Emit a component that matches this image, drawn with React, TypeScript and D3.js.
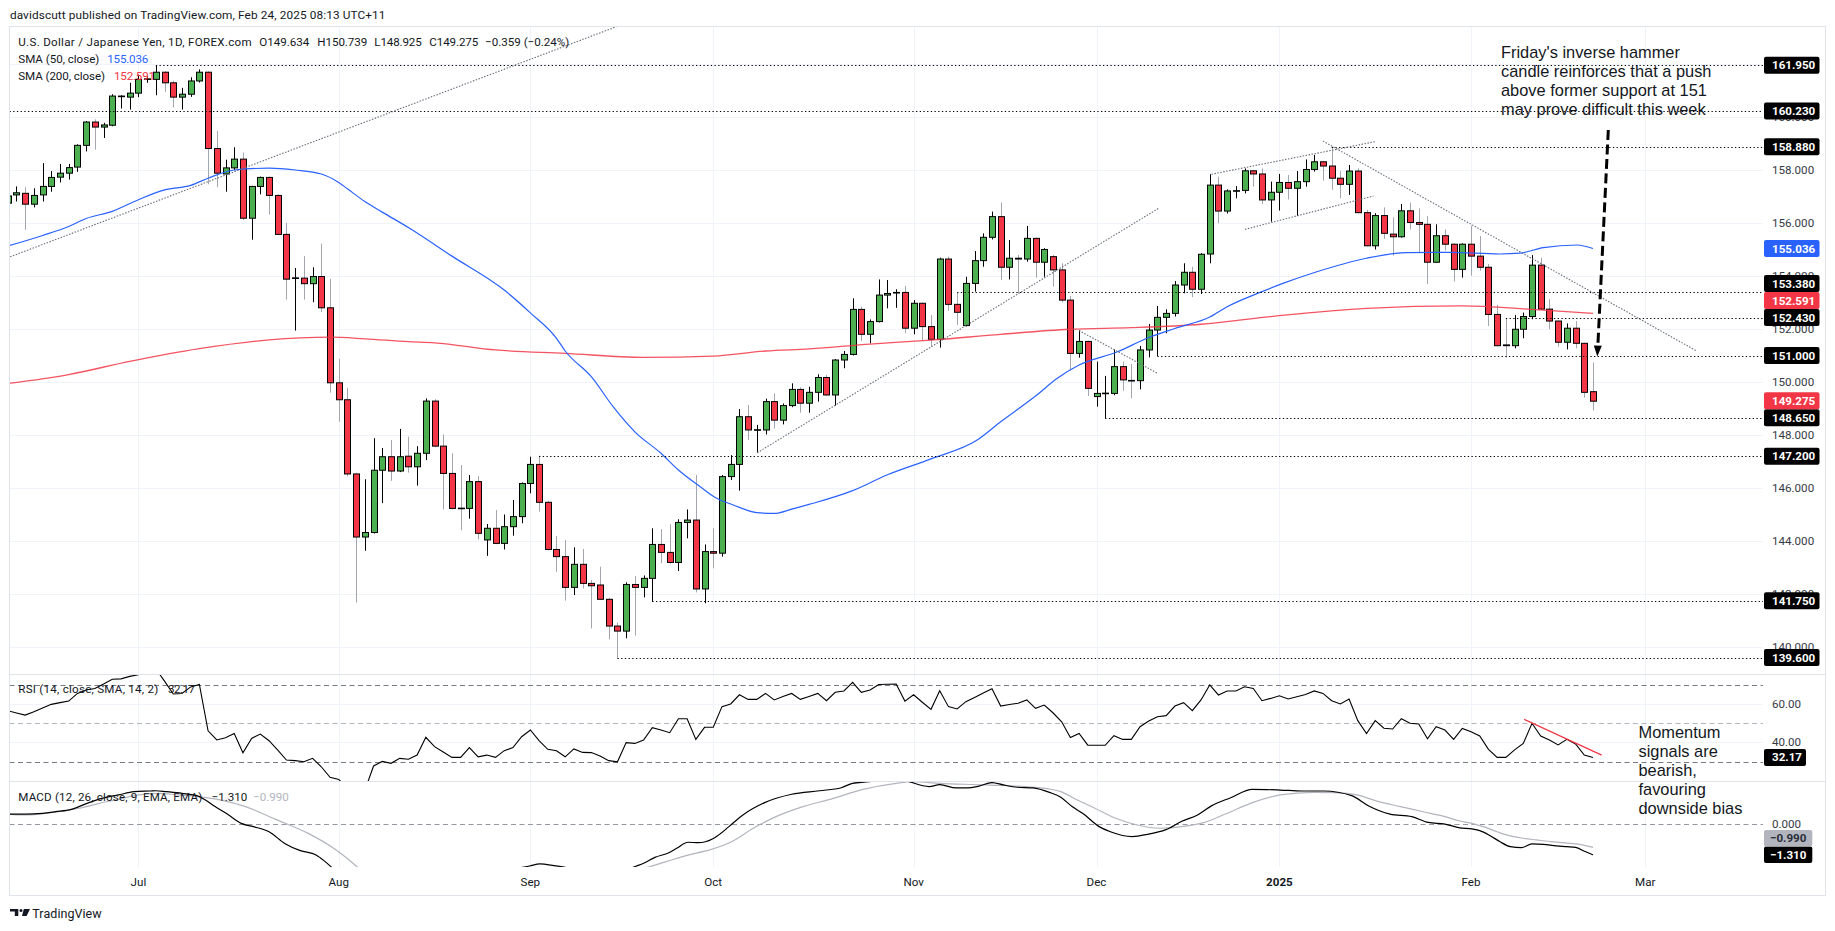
import React from 'react';
import * as d3 from 'd3';

// ---------- DATA ----------
type Candle = [string, number, number, number, number]; // date, open, high, low, close
const candles: Candle[] = [
  ['2024-06-10',156.75,157.20,156.60,157.02],['2024-06-11',157.06,157.38,156.81,157.14],['2024-06-12',157.12,157.35,155.74,156.71],
  ['2024-06-13',156.71,157.31,156.59,157.04],['2024-06-14',157.06,158.26,156.81,157.38],['2024-06-17',157.38,157.96,157.18,157.72],
  ['2024-06-18',157.73,158.23,157.53,157.88],['2024-06-19',157.88,158.23,157.64,158.09],['2024-06-20',158.11,158.97,157.93,158.93],
  ['2024-06-21',158.93,159.85,158.70,159.81],['2024-06-24',159.81,159.91,158.77,159.62],['2024-06-25',159.62,159.78,159.21,159.70],
  ['2024-06-26',159.69,160.86,159.65,160.79],['2024-06-27',160.78,160.82,160.32,160.79],['2024-06-28',160.75,161.29,160.28,160.90],
  ['2024-07-01',160.90,161.60,160.75,161.42],['2024-07-02',161.42,161.53,161.29,161.44],['2024-07-03',161.42,161.95,160.82,161.69],
  ['2024-07-04',161.69,161.73,160.95,161.29],['2024-07-05',161.29,161.37,160.36,160.75],['2024-07-08',160.75,161.10,160.28,160.86],
  ['2024-07-09',160.86,161.50,160.76,161.36],['2024-07-10',161.36,161.80,161.30,161.69],['2024-07-11',161.69,161.72,157.46,158.81],
  ['2024-07-12',158.81,159.47,157.35,157.88],['2024-07-15',157.85,158.39,157.18,158.08],['2024-07-16',158.08,158.86,158.00,158.41],
  ['2024-07-17',158.41,158.66,156.11,156.18],['2024-07-18',156.18,157.40,155.37,157.38],['2024-07-19',157.38,157.75,157.08,157.72],
  ['2024-07-22',157.72,157.75,156.32,157.04],['2024-07-23',157.04,157.08,155.55,155.57],['2024-07-24',155.57,156.01,153.11,153.88],
  ['2024-07-25',153.92,154.30,151.94,153.93],['2024-07-26',153.92,154.75,153.11,153.71],['2024-07-29',153.71,154.33,153.01,153.98],
  ['2024-07-30',153.98,155.22,152.64,152.80],['2024-07-31',152.80,153.89,149.60,149.97],['2024-08-01',149.97,150.88,148.50,149.33],
  ['2024-08-02',149.33,149.78,146.44,146.53],['2024-08-05',146.53,146.57,141.68,144.15],['2024-08-06',144.15,146.33,143.63,144.32],
  ['2024-08-07',144.32,147.88,144.28,146.67],['2024-08-08',146.67,147.51,145.43,147.18],['2024-08-09',147.18,147.81,146.27,146.64],
  ['2024-08-12',146.64,148.23,146.60,147.18],['2024-08-13',147.20,147.94,146.58,146.80],['2024-08-14',146.80,147.58,146.09,147.31],
  ['2024-08-15',147.31,149.38,147.05,149.28],['2024-08-16',149.28,149.35,147.55,147.58],['2024-08-19',147.58,148.02,145.19,146.55],
  ['2024-08-20',146.55,147.31,145.19,145.23],['2024-08-21',145.24,146.87,144.41,145.22],['2024-08-22',145.23,146.49,144.84,146.24],
  ['2024-08-23',146.24,146.45,144.06,144.29],['2024-08-26',144.04,144.64,143.44,144.48],['2024-08-27',144.48,145.17,143.88,143.91],
  ['2024-08-28',143.91,145.00,143.68,144.54],['2024-08-29',144.54,145.55,144.20,144.92],['2024-08-30',144.92,146.21,144.67,146.17],
  ['2024-09-02',146.17,147.18,145.80,146.89],['2024-09-03',146.89,147.22,145.11,145.46],['2024-09-04',145.46,145.52,143.65,143.68],
  ['2024-09-05',143.68,144.19,142.84,143.41],['2024-09-06',143.41,144.04,141.75,142.25],['2024-09-09',142.25,143.76,141.96,143.12],
  ['2024-09-10',143.12,143.70,142.21,142.40],['2024-09-11',142.40,142.53,140.70,142.31],['2024-09-12',142.34,143.03,141.78,141.80],
  ['2024-09-13',141.80,141.84,140.29,140.79],['2024-09-16',140.79,140.92,139.57,140.60],['2024-09-17',140.60,142.44,140.33,142.36],
  ['2024-09-18',142.36,142.68,140.43,142.25],['2024-09-19',142.25,142.70,141.87,142.59],['2024-09-20',142.59,144.48,141.71,143.87],
  ['2024-09-23',143.87,144.45,143.16,143.57],['2024-09-24',143.57,144.63,143.15,143.19],['2024-09-25',143.19,144.82,142.87,144.70],
  ['2024-09-26',144.70,145.19,144.10,144.79],['2024-09-27',144.79,146.49,142.06,142.19],['2024-09-30',142.19,143.87,141.65,143.60],
  ['2024-10-01',143.60,144.48,142.97,143.54],['2024-10-02',143.54,146.49,143.41,146.43],['2024-10-03',146.43,147.24,146.30,146.89],
  ['2024-10-04',146.89,148.98,145.90,148.69],['2024-10-07',148.69,149.13,147.81,148.19],['2024-10-08',148.19,148.38,147.33,148.20],
  ['2024-10-09',148.19,149.37,148.02,149.26],['2024-10-10',149.26,149.57,148.25,148.56],['2024-10-11',148.56,149.19,148.40,149.11],
  ['2024-10-14',149.11,149.95,149.05,149.72],['2024-10-15',149.72,149.80,148.84,149.20],['2024-10-16',149.20,149.82,148.84,149.61],
  ['2024-10-17',149.61,150.29,149.26,150.17],['2024-10-18',150.17,150.26,149.48,149.51],['2024-10-21',149.51,150.86,149.11,150.83],
  ['2024-10-22',150.83,151.17,150.52,151.04],['2024-10-23',151.04,153.16,151.00,152.74],['2024-10-24',152.74,152.84,151.55,151.80],
  ['2024-10-25',151.80,152.36,151.46,152.28],['2024-10-28',152.28,153.87,152.25,153.28],['2024-10-29',153.28,153.85,152.78,153.34],
  ['2024-10-30',153.37,153.50,152.80,153.38],['2024-10-31',153.38,153.62,151.84,152.03],['2024-11-01',152.03,153.09,151.80,152.97],
  ['2024-11-04',152.97,153.00,151.55,152.09],['2024-11-05',152.09,152.53,151.33,151.61],['2024-11-06',151.61,154.69,151.30,154.64],
  ['2024-11-07',154.64,154.73,152.69,152.93],['2024-11-08',152.93,153.37,152.15,152.63],['2024-11-11',152.13,153.97,152.10,153.72],
  ['2024-11-12',153.72,154.94,153.41,154.58],['2024-11-13',154.58,155.61,154.35,155.46],['2024-11-14',155.46,156.43,155.38,156.24],
  ['2024-11-15',156.24,156.77,153.85,154.33],['2024-11-18',154.33,155.36,153.87,154.67],['2024-11-19',154.67,154.79,153.35,154.64],
  ['2024-11-20',154.64,155.89,154.54,155.42],['2024-11-21',155.42,155.45,153.94,154.52],['2024-11-22',154.52,155.05,153.97,155.00],
  ['2024-11-25',154.73,154.79,153.60,154.23],['2024-11-26',154.23,154.48,153.00,153.09],['2024-11-27',153.09,153.25,150.45,151.08],
  ['2024-11-28',151.08,151.96,150.92,151.53],['2024-11-29',151.53,151.56,149.47,149.76],['2024-12-02',149.45,150.77,149.07,149.57],
  ['2024-12-03',149.57,150.23,148.63,149.58],['2024-12-04',149.57,151.23,149.50,150.58],['2024-12-05',150.58,150.77,149.67,150.08],
  ['2024-12-06',150.06,150.68,149.38,150.04],['2024-12-09',150.05,151.36,149.72,151.21],['2024-12-10',151.21,152.19,150.93,151.96],
  ['2024-12-11',151.96,152.87,150.98,152.44],['2024-12-12',152.44,152.74,151.84,152.59],['2024-12-13',152.59,153.81,152.47,153.66],
  ['2024-12-16',153.66,154.48,153.35,154.14],['2024-12-17',154.14,154.35,153.20,153.50],['2024-12-18',153.50,154.86,153.32,154.82],
  ['2024-12-19',154.83,157.84,154.48,157.43],['2024-12-20',157.43,157.75,155.99,156.45],['2024-12-23',156.45,157.27,156.36,157.21],
  ['2024-12-24',157.21,157.39,156.93,157.22],['2024-12-26',157.23,158.06,157.12,157.97],['2024-12-27',157.97,158.00,157.37,157.85],
  ['2024-12-30',157.85,158.06,156.72,156.87],['2024-12-31',156.87,157.56,156.05,157.16],['2025-01-02',157.16,157.85,156.47,157.53],
  ['2025-01-03',157.53,157.81,156.89,157.31],['2025-01-06',157.31,157.96,156.26,157.56],['2025-01-07',157.56,158.40,157.37,158.02],
  ['2025-01-08',158.02,158.57,157.94,158.31],['2025-01-09',158.31,158.33,157.60,158.15],['2025-01-10',158.15,158.88,157.25,157.69],
  ['2025-01-13',157.69,157.96,156.93,157.46],['2025-01-14',157.46,158.19,157.06,157.96],['2025-01-15',157.96,158.06,156.37,156.39],
  ['2025-01-16',156.39,156.49,155.12,155.14],['2025-01-17',155.14,156.37,155.00,156.28],['2025-01-20',156.28,156.59,155.40,155.61],
  ['2025-01-21',155.58,156.21,154.77,155.48],['2025-01-22',155.48,156.72,155.45,156.46],['2025-01-23',156.46,156.77,155.76,156.02],
  ['2025-01-24',156.02,156.55,154.88,155.95],['2025-01-27',155.95,156.26,153.70,154.52],['2025-01-28',154.52,155.95,154.50,155.52],
  ['2025-01-29',155.52,155.76,154.96,155.20],['2025-01-30',155.20,155.23,153.79,154.25],['2025-01-31',154.25,155.23,153.94,155.20],
  ['2025-02-03',155.20,155.90,154.01,154.75],['2025-02-04',154.75,155.51,154.20,154.33],['2025-02-05',154.33,154.45,152.11,152.55],
  ['2025-02-06',152.55,152.91,151.35,151.37],['2025-02-07',151.40,152.40,150.92,151.37],['2025-02-10',151.37,152.53,151.27,151.99],
  ['2025-02-11',151.99,152.62,151.65,152.47],['2025-02-12',152.47,154.79,152.37,154.41],['2025-02-13',154.41,154.69,152.72,152.75],
  ['2025-02-14',152.75,153.12,151.99,152.30],['2025-02-17',152.30,152.32,151.33,151.50],['2025-02-18',151.50,152.21,151.23,152.03],
  ['2025-02-19',152.03,152.30,151.27,151.46],['2025-02-20',151.46,151.48,149.41,149.61],['2025-02-21',149.634,150.739,148.925,149.275],
];

// SMA samples: [bar position, value]
const sma50: [number, number][] = [
  [0,155.13],[4,155.53],[7,155.87],[9,156.17],[12,156.44],[15,156.88],[18,157.25],[21,157.42],[23,157.69],[26,158.0],
  [30,158.07],[33,158.0],[36,157.85],[38,157.53],[39,157.29],[41,156.81],[43,156.41],[46,155.83],[51,154.75],[57,153.47],
  [60,152.61],[63,151.65],[64,151.17],[67,150.2],[69.5,149.07],[72,148.12],[75,147.31],[77,146.68],[79.5,146.05],[81.4,145.61],
  [83.3,145.36],[86,145.07],[88,145.04],[90,145.2],[92,145.38],[97,145.9],[101,146.5],[106,147.1],[111.3,147.81],[114,148.5],
  [118,149.47],[120.5,150.14],[123,150.64],[127.4,151.14],[131,151.68],[134,152.02],[138,152.45],[140,152.84],[144,153.41],
  [146.4,153.72],[150.3,154.16],[156,154.67],[160.6,154.88],[165.6,154.89],[171.3,154.83],[173.6,154.86],[176.3,155.07],
  [180.2,155.17],[182,155.036],
];
const sma200: [number, number][] = [
  [0,149.94],[7,150.28],[14,150.78],[22,151.26],[30,151.59],[37,151.69],[41,151.63],[46,151.52],[49,151.48],[56,151.21],
  [64,151.08],[73,150.93],[81,150.98],[87,151.17],[92,151.25],[99,151.43],[106,151.58],[114,151.80],[122,151.99],[129,152.05],
  [137,152.18],[145,152.47],[156,152.78],[167,152.87],[175,152.74],[182,152.591],
];

// RSI per bar
const rsi: number[] = [
  56.6,55.4,54.3,56.0,58.0,59.9,60.8,61.6,65.6,67.4,68.2,70.5,73.0,73.2,74.5,75.4,77.5,78.5,72.0,65.3,
  65.6,69.0,70.3,46.1,41.3,42.5,44.7,34.6,42.1,44.4,40.9,36.0,30.8,30.5,29.9,31.7,27.3,21.8,20.7,16.0,
  11.0,15.0,27.7,30.1,29.1,31.7,31.2,33.4,42.7,37.8,35.0,32.2,32.2,37.3,32.5,33.4,32.2,35.7,37.3,43.0,
  46.5,41.0,36.4,35.7,32.5,36.6,34.8,34.7,32.9,30.5,29.9,39.9,39.5,41.3,47.7,46.5,45.1,52.4,52.4,41.6,
  47.9,47.9,58.7,60.1,64.9,62.5,62.5,65.6,62.2,64.0,65.6,62.5,64.0,65.6,61.8,66.2,66.9,71.4,66.2,67.4,
  70.3,70.4,70.5,61.6,64.9,61.0,57.3,67.0,58.7,57.5,61.3,63.5,65.8,68.1,59.0,59.8,60.5,62.2,57.8,59.5,
  55.5,50.8,42.6,44.7,38.6,38.5,38.5,43.5,41.6,41.6,48.2,51.2,53.4,54.0,59.0,60.8,56.6,62.2,70.0,64.8,
  66.9,66.9,69.1,68.2,61.8,63.0,64.4,62.7,63.9,65.0,66.9,65.6,61.8,60.1,62.7,51.4,44.7,51.4,47.4,47.0,
  52.4,50.0,49.6,41.9,48.2,46.5,41.6,47.3,45.6,43.4,36.4,32.2,32.2,36.1,39.5,50.0,43.4,41.3,38.7,41.6,
  39.2,33.4,32.17,
];

// MACD line and signal samples: [bar position, value]
const macdLine: [number, number][] = [
  [0,0.44],[2,0.44],[4,0.47],[5.5,0.54],[7.3,0.64],[9.1,0.90],[10.9,1.12],[12.7,1.26],[14.5,1.40],[16.4,1.43],[17,1.44],
  [18.2,1.40],[20,1.33],[21.8,1.22],[22.7,1.04],[23.8,0.76],[25.2,0.44],[26.8,0.04],[28.2,-0.10],[30,-0.32],[31.8,-0.82],
  [33.6,-1.13],[35.4,-1.32],[36.3,-1.56],[37.2,-1.85],[38.5,-2.3],[40,-2.9],[42,-3.2],[45,-3.1],[48,-2.6],[52,-2.3],
  [56,-2.05],[58,-1.92],[59.9,-1.79],[61.1,-1.70],[62.7,-1.77],[64,-1.85],[66,-2.1],[68,-2.3],[70,-2.2],[71.8,-1.85],
  [73,-1.67],[74.3,-1.42],[75.9,-1.22],[76.8,-1.03],[78.1,-0.77],[79.3,-0.79],[80.9,-0.63],[81.5,-0.49],[82.8,-0.10],
  [84.4,0.40],[86.9,0.93],[90,1.29],[93.2,1.44],[95.7,1.57],[97,1.76],[98.9,1.83],[100.5,1.95],[102,1.98],[103.3,1.85],
  [105.8,1.62],[107,1.70],[108.9,1.56],[110.2,1.56],[111.5,1.64],[113,1.79],[114.3,1.69],[115.9,1.59],[117.7,1.56],
  [119.6,1.37],[120.9,1.16],[122.2,0.76],[123.4,0.47],[125.3,-0.10],[126.6,-0.32],[129.1,-0.53],[131,-0.42],[132.9,-0.24],
  [134.8,0.13],[136.6,0.40],[138.2,0.79],[140.4,1.14],[142.9,1.50],[146.1,1.47],[148.6,1.43],[151.1,1.43],[154.3,1.23],
  [156.2,0.80],[158.7,0.44],[161.2,0.33],[163.1,0.08],[165,0.01],[166.7,-0.15],[168.1,-0.20],[169,-0.27],[170.2,-0.49],
  [171.3,-0.74],[172.5,-0.96],[173.8,-1.0],[175,-0.84],[176.3,-0.86],[177.8,-0.93],[179,-0.96],[180,-0.99],[181.1,-1.17],
  [182,-1.31],
];
const signalLine: [number, number][] = [
  [0.2,0.44],[1.8,0.40],[3.65,0.44],[5.9,0.54],[8.2,0.69],[10.5,0.90],[12.7,1.07],[15,1.26],[17.3,1.33],[19.5,1.26],
  [21.8,1.19],[24.5,1.04],[27.3,0.76],[30.9,0.19],[34.5,-0.39],[37.7,-1.10],[39.1,-1.50],[40.2,-1.85],[43,-2.4],[47,-2.75],
  [52,-2.7],[58,-2.4],[64,-2.15],[68,-2.05],[71,-1.95],[73.4,-1.85],[75.6,-1.60],[78.1,-1.32],[80.6,-1.10],[83.1,-0.75],
  [85.6,-0.17],[88.2,0.33],[91.3,0.76],[94.4,1.07],[98.2,1.50],[102,1.76],[103.9,1.83],[107,1.76],[112.1,1.69],[118.4,1.57],
  [120.9,1.40],[122.8,1.04],[124.7,0.71],[127.2,0.26],[129.7,-0.03],[132.2,-0.17],[134.8,-0.10],[137.3,0.07],[139.8,0.44],
  [142.9,0.93],[146.1,1.26],[149.9,1.37],[152.4,1.36],[154.9,1.26],[157.4,0.97],[159.9,0.76],[162.5,0.54],[165,0.33],
  [166.7,0.14],[168.1,0.04],[169.4,-0.10],[171,-0.32],[172.5,-0.50],[174,-0.60],[175.5,-0.67],[177.1,-0.74],[178.6,-0.79],
  [180.1,-0.84],[182,-0.99],
];

const priceTicks = [140, 142, 144, 146, 148, 150, 152, 154, 156, 158, 160, 162];
const rsiTicks = [60, 40];
const monthTicks: [string, string][] = [
  ['Jul','2024-07-01'],['Aug','2024-08-01'],['Sep','2024-09-02'],['Oct','2024-10-01'],['Nov','2024-11-01'],
  ['Dec','2024-12-02'],['2025','2025-01-02'],['Feb','2025-02-03'],['Mar','2025-03-03'],
];
// horizontal levels: price, start date (null = from the left edge)
const levels: [number, string | null][] = [
  [161.95,'2024-07-03'],[160.23,null],[158.88,'2025-01-10'],[153.38,'2024-11-08'],[152.43,'2025-02-07'],
  [151.0,'2024-12-11'],[148.65,'2024-12-03'],[147.2,'2024-09-03'],[141.75,'2024-09-20'],[139.6,'2024-09-16'],
];
// trend lines in [bar position, price]
const trendLines: { a: [number, number]; b: [number, number]; extend?: boolean }[] = [
  { a: [0, 154.69], b: [46, 160.43], extend: true },
  { a: [86.05, 147.33], b: [132.1, 156.55] },
  { a: [123, 151.94], b: [132, 150.33] },
  { a: [138.2, 157.84], b: [157, 159.07] },
  { a: [142.05, 155.76], b: [156.8, 157.02] },
  { a: [151, 159.09], b: [193.9, 151.17] },
];
const rsiTrend: [number, number][] = [[174.1, 52.07], [183, 33.4]];
const arrowPts: [number, number][] = [[183.76, 159.51], [182.5, 150.96]];

const lastClose = 149.275, lastSma50 = 155.036, lastSma200 = 152.591, lastRsi = 32.17, lastMacd = -1.31, lastSignal = -0.99;

const noteTop = ["Friday's inverse hammer", 'candle reinforces that a push', 'above former support at 151', 'may prove difficult this week'];
const noteBottom = ['Momentum', 'signals are', 'bearish,', 'favouring', 'downside bias'];

// ---------- LAYOUT ----------
const W = 1835, H = 931;
const PL = 9.5, PR = 1763, PT = 27, PB = 674, RT = 675, RB = 781, MT = 782, MB = 867;
const FONT = 'Roboto, "Noto Sans", sans-serif';
const TXT = '#131722';

const dates = candles.map(c => c[0]);
function barOf(date: string): number {
  const i = dates.indexOf(date);
  if (i >= 0) return i;
  let d = new Date(dates[dates.length - 1] + 'T00:00:00Z');
  const t = new Date(date + 'T00:00:00Z');
  let n = dates.length - 1;
  while (d < t) {
    d = new Date(d.getTime() + 86400000);
    const wd = d.getUTCDay();
    if (wd !== 0 && wd !== 6) n++;
  }
  return n;
}
const fmtMinus = (v: number, digits: number) => (v < 0 ? '\u2212' : '') + Math.abs(v).toFixed(digits);

function T(props: { x: number; y: number; w?: number; children: React.ReactNode; [k: string]: any }) {
  const { x, y, w, children, ...rest } = props;
  return (
    <text x={x} y={y} dominantBaseline="central" {...(w ? { textLength: w, lengthAdjust: 'spacing' } : {})} {...rest}>
      {children}
    </text>
  );
}

export default function App() {
  const xs = d3.scaleLinear().domain([0, 182]).range([7.75, 7.75 + 182 * 8.71]);
  const y = d3.scaleLinear().domain([140, 158]).range([647, 170]);
  const yR = d3.scaleLinear().domain([30, 70]).range([761.6, 685]);
  const yM = d3.scaleLinear().domain([-1, 1]).range([847.6, 801.0]);

  const smaLine = d3.line<[number, number]>().x(d => xs(d[0])).y(d => y(d[1])).curve(d3.curveMonotoneX);
  const rsiPath = d3.line<number>().x((d, i) => xs(i)).y(d => yR(d))(rsi) || '';
  const mLine = d3.line<[number, number]>().x(d => xs(d[0])).y(d => yM(d[1])).curve(d3.curveMonotoneX);

  // price-axis boxes with collision handling (push upward)
  type Box = { v: number; fill: string; color: string; yy: number };
  const mainBoxes: Box[] = [
    ...levels.map(([p]) => ({ v: p, fill: '#000000', color: '#ffffff', yy: y(p) })),
    { v: lastSma50, fill: '#2962ff', color: '#ffffff', yy: y(lastSma50) },
    { v: lastSma200, fill: '#f23645', color: '#ffffff', yy: y(lastSma200) },
    { v: lastClose, fill: '#f23645', color: '#ffffff', yy: y(lastClose) },
  ].sort((a, b) => b.yy - a.yy);
  for (let i = 1; i < mainBoxes.length; i++) {
    mainBoxes[i].yy = Math.min(mainBoxes[i].yy, mainBoxes[i - 1].yy - 17);
  }
  const macdBoxes: Box[] = [
    { v: lastSignal, fill: '#b2b5be', color: '#2a2e39', yy: yM(lastSignal) },
    { v: lastMacd, fill: '#000000', color: '#ffffff', yy: yM(lastMacd) },
  ].sort((a, b) => b.yy - a.yy);
  for (let i = 1; i < macdBoxes.length; i++) {
    macdBoxes[i].yy = Math.min(macdBoxes[i].yy, macdBoxes[i - 1].yy - 16.5);
  }

  const trendSegs = trendLines.map(t => {
    let x1 = xs(t.a[0]), y1 = y(t.a[1]), x2 = xs(t.b[0]), y2 = y(t.b[1]);
    if (t.extend) {
      const s = (y2 - y1) / (x2 - x1);
      const nx1 = PL - 5, nx2 = PR + 5;
      y1 = y1 + s * (nx1 - x1); y2 = y2 + s * (nx2 - x2);
      x1 = nx1; x2 = nx2;
    }
    return [x1, y1, x2, y2];
  });

  // arrow
  const ax0 = xs(arrowPts[0][0]), ay0 = y(arrowPts[0][1]);
  const ax1 = xs(arrowPts[1][0]), ay1 = y(arrowPts[1][1]);
  const alen = Math.hypot(ax1 - ax0, ay1 - ay0);
  const ux = (ax1 - ax0) / alen, uy = (ay1 - ay0) / alen;
  const headL = 11, headW = 4;
  const bx = ax1 - ux * headL, by = ay1 - uy * headL;
  const head = `M${ax1},${ay1} L${bx - uy * headW},${by + ux * headW} L${bx + uy * headW},${by - ux * headW} Z`;

  const axisX = 1772;

  return (
    <svg width={W} height={H} style={{ position: 'absolute', left: 0, top: 0, background: '#ffffff' }}
      fontFamily={FONT}>
      <defs>
        <clipPath id="clipMain"><rect x={PL} y={PT} width={PR - PL} height={PB - PT} /></clipPath>
        <clipPath id="clipRsi"><rect x={PL} y={RT} width={PR - PL} height={RB - RT} /></clipPath>
        <clipPath id="clipMacd"><rect x={PL} y={MT} width={PR - PL} height={MB - MT} /></clipPath>
      </defs>
      <rect x={0} y={0} width={W} height={H} fill="#ffffff" />

      {/* header */}
      <T x={9.9} y={15} w={375.6} fontSize={11.8} fill={TXT}>
        davidscutt published on TradingView.com, Feb 24, 2025 08:13 UTC+11
      </T>

      {/* grid */}
      <g clipPath="url(#clipMain)">
        {priceTicks.map(p => (
          <line key={'g' + p} x1={PL} x2={PR} y1={Math.round(y(p)) + 0.5} y2={Math.round(y(p)) + 0.5} stroke="#f0f3fa" />
        ))}
      </g>
      {monthTicks.map(([l, d]) => {
        const xx = Math.round(xs(barOf(d))) + 0.5;
        return <line key={'v' + l} x1={xx} x2={xx} y1={PT} y2={MB} stroke="#f0f3fa" />;
      })}
      {rsiTicks.map(v => (
        <line key={'rg' + v} x1={PL} x2={PR} y1={Math.round(yR(v)) + 0.5} y2={Math.round(yR(v)) + 0.5} stroke="#f0f3fa" />
      ))}

      {/* candles */}
      <g clipPath="url(#clipMain)">
        {candles.map(([d, o, h, l, c], i) => {
          const cx = Math.round(xs(i));
          const up = c >= o;
          const top = y(Math.max(o, c)), bot = y(Math.min(o, c));
          return (
            <g key={d}>
              <line x1={cx + 0.5} x2={cx + 0.5} y1={y(h)} y2={y(l)} stroke={up ? '#000000' : '#a3a6af'} strokeWidth={1} />
              <rect x={cx - 2.5} y={top} width={6} height={Math.max(bot - top, 0.6)}
                fill={up ? '#4caf50' : '#f23645'} stroke="#000000" strokeWidth={1} />
            </g>
          );
        })}
        {/* SMAs */}
        <path d={smaLine(sma200) || ''} fill="none" stroke="#f23645" strokeWidth={1.3} strokeOpacity={0.85} />
        <path d={smaLine(sma50) || ''} fill="none" stroke="#2962ff" strokeWidth={1.2} />
        {/* horizontal levels */}
        {levels.map(([p, from]) => {
          const yy = Math.round(y(p)) + 0.5;
          const x1 = from ? xs(barOf(from)) : PL;
          return <line key={'lv' + p} x1={x1} x2={PR} y1={yy} y2={yy} stroke="#000000" strokeWidth={1.2} strokeDasharray="1.3 2.4" />;
        })}
        {/* trend lines */}
        {trendSegs.map((s, i) => (
          <line key={'t' + i} x1={s[0]} y1={s[1]} x2={s[2]} y2={s[3]} stroke="#6a6d78" strokeWidth={1.1} strokeDasharray="1.5 1.5" />
        ))}
        {/* arrow */}
        <line x1={ax0} y1={ay0} x2={bx} y2={by} stroke="#000000" strokeWidth={3} strokeDasharray="10 4.5" />
        <path d={head} fill="#000000" />
      </g>

      {/* annotation texts */}
      <g fontFamily='"Liberation Sans", Arial, sans-serif' fontSize={16.4} fill={TXT}>
        {noteTop.map((t, i) => (
          <text key={t} x={1501} y={52 + i * 19} dominantBaseline="central">{t}</text>
        ))}
        {noteBottom.map((t, i) => (
          <text key={t} x={1638.5} y={731.5 + i * 19} dominantBaseline="central">{t}</text>
        ))}
      </g>

      {/* main legend */}
      <g fontSize={11.6} fill={TXT}>
        <T x={18.3} y={42.3} w={233.4}>U.S. Dollar / Japanese Yen, 1D, FOREX.com</T>
        <T x={259.3} y={42.3} w={50}>O149.634</T>
        <T x={317.3} y={42.3} w={50}>H150.739</T>
        <T x={374.3} y={42.3} w={47.4}>L148.925</T>
        <T x={429.3} y={42.3} w={49}>C149.275</T>
        <T x={485} y={42.3} w={84.4}>{'\u22120.359 (\u22120.24%)'}</T>
        <T x={18.3} y={59} w={81}>SMA (50, close)</T>
        <T x={107.3} y={59} w={41} fill="#2962ff">{lastSma50.toFixed(3)}</T>
        <T x={18.3} y={76} w={86.7}>SMA (200, close)</T>
        <T x={114} y={76} w={41} fill="#f23645">{lastSma200.toFixed(3)}</T>
      </g>

      {/* price axis */}
      <g fontSize={11.6}>
        {priceTicks.map(p => (
          <text key={'pt' + p} x={axisX} y={y(p)} dominantBaseline="central" fill="#363a45">{p.toFixed(3)}</text>
        ))}
        {mainBoxes.map(b => (
          <g key={'mb' + b.v}>
            <rect x={1764} y={b.yy - 8.5} width={55.5} height={17} rx={2} fill={b.fill} />
            <text x={axisX} y={b.yy} dominantBaseline="central" fill={b.color} fontWeight={700}>{b.v.toFixed(3)}</text>
          </g>
        ))}
      </g>

      {/* RSI pane */}
      <line x1={PL} x2={PR} y1={Math.round(yR(70)) + 0.5} y2={Math.round(yR(70)) + 0.5} stroke="#787b86" strokeDasharray="5 3.5" />
      <line x1={PL} x2={PR} y1={Math.round(yR(50)) + 0.5} y2={Math.round(yR(50)) + 0.5} stroke="#b2b5be" strokeDasharray="5 3.5" />
      <line x1={PL} x2={PR} y1={Math.round(yR(30)) + 0.5} y2={Math.round(yR(30)) + 0.5} stroke="#787b86" strokeDasharray="5 3.5" />
      <g clipPath="url(#clipRsi)">
        <path d={rsiPath} fill="none" stroke="#000000" strokeWidth={1.1} />
        <line x1={xs(rsiTrend[0][0])} y1={yR(rsiTrend[0][1])} x2={xs(rsiTrend[1][0])} y2={yR(rsiTrend[1][1])} stroke="#f23645" strokeWidth={1.2} />
      </g>
      <g fontSize={11.6}>
        <T x={18.3} y={689.3} w={140} fill={TXT}>RSI (14, close, SMA, 14, 2)</T>
        <T x={168} y={689.3} w={27} fill={TXT}>{lastRsi.toFixed(2)}</T>
        {rsiTicks.map(v => (
          <text key={'rt' + v} x={axisX} y={yR(v)} dominantBaseline="central" fill="#363a45">{v.toFixed(2)}</text>
        ))}
        <rect x={1764} y={yR(lastRsi) - 8.5} width={42} height={17} rx={2} fill="#000000" />
        <text x={axisX} y={yR(lastRsi)} dominantBaseline="central" fill="#ffffff" fontWeight={700}>{lastRsi.toFixed(2)}</text>
      </g>

      {/* MACD pane */}
      <line x1={PL} x2={PR} y1={Math.round(yM(0)) + 0.5} y2={Math.round(yM(0)) + 0.5} stroke="#9598a1" strokeDasharray="5 3.5" />
      <g clipPath="url(#clipMacd)">
        <path d={mLine(signalLine) || ''} fill="none" stroke="#b2b5be" strokeWidth={1.2} />
        <path d={mLine(macdLine) || ''} fill="none" stroke="#000000" strokeWidth={1.2} />
      </g>
      <g fontSize={11.6}>
        <T x={18.3} y={796.7} w={184} fill={TXT}>MACD (12, 26, close, 9, EMA, EMA)</T>
        <T x={211.5} y={796.7} fill={TXT}>{fmtMinus(lastMacd, 3)}</T>
        <T x={253} y={796.7} fill="#b2b5be">{fmtMinus(lastSignal, 3)}</T>
        <text x={axisX} y={yM(0)} dominantBaseline="central" fill="#363a45">0.000</text>
        {macdBoxes.map(b => (
          <g key={'xb' + b.v}>
            <rect x={1764} y={b.yy - 8.3} width={48.3} height={16.6} rx={2} fill={b.fill} />
            <text x={axisX - 2} y={b.yy} dominantBaseline="central" fill={b.color} fontWeight={700}>{fmtMinus(b.v, 3)}</text>
          </g>
        ))}
      </g>

      {/* pane separators and frame */}
      <line x1={PL} x2={1825.5} y1={674.5} y2={674.5} stroke="#e0e3eb" />
      <line x1={PL} x2={1825.5} y1={781.5} y2={781.5} stroke="#e0e3eb" />
      <rect x={9.5} y={26.5} width={1816} height={869} fill="none" stroke="#e0e3eb" />

      {/* time axis */}
      <g fontSize={11.6} fill={TXT}>
        {monthTicks.map(([l, d]) => (
          <text key={'mt' + l} x={xs(barOf(d))} y={881.7} textAnchor="middle" dominantBaseline="central"
            fontWeight={l === '2025' ? 700 : 400}>{l}</text>
        ))}
      </g>

      {/* footer logo */}
      <g transform="translate(10,909)" fill={TXT}>
        <path d="M0,0 H8.3 V7 H4.8 V2.6 H0 Z" />
        <circle cx={11} cy={1.5} r={1.5} />
        <path d="M13.8,0 H20 L16.6,7 H12 Z" />
      </g>
      <T x={32.3} y={913.3} w={69.4} fontSize={12.5} fill={TXT}>TradingView</T>
    </svg>
  );
}
